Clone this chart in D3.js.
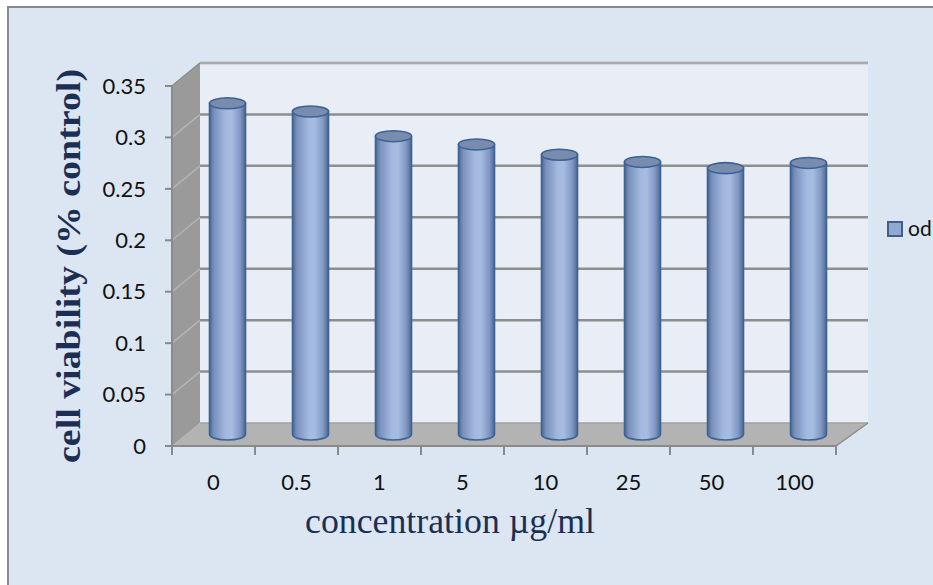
<!DOCTYPE html>
<html>
<head>
<meta charset="utf-8">
<script src="https://cdn.jsdelivr.net/npm/d3@7"></script>
<style>
  html, body { margin: 0; padding: 0; background: #ffffff; }
  svg { display: block; }
</style>
</head>
<body>
<svg id="chart" width="933" height="585"></svg>
<script>
// Cell viability (od) per concentration
const categories = ["0", "0.5", "1", "5", "10", "25", "50", "100"];
const odValues = [0.322, 0.314, 0.290, 0.282, 0.272, 0.265, 0.259, 0.264];
const yTicks = [0, 0.05, 0.1, 0.15, 0.2, 0.25, 0.3, 0.35];
const yTickLabels = ["0", "0.05", "0.1", "0.15", "0.2", "0.25", "0.3", "0.35"];
const seriesName = "od";
const yTitle = "cell viability (% control)";
const xTitle = "concentration  \u00b5g/ml";

const svg = d3.select("#chart");
const W = 933, H = 585;

// 3-D box geometry
const plot = { left: 172, right: 836, bottom: 446, top: 86 };
const depth = { dx: 28, dy: -23 };

const x = d3.scaleBand().domain(categories).range([plot.left, plot.right]).padding(0);
const y = d3.scaleLinear().domain([0, 0.35]).range([plot.bottom, plot.top]);

// Chart area background + frame
svg.append("rect")
  .attr("x", 8).attr("y", 7).attr("width", W + 10).attr("height", H + 10)
  .attr("fill", "#dce6f2").attr("stroke", "#8a8a8a").attr("stroke-width", 2);

const defs = svg.append("defs");
const grad = defs.append("linearGradient").attr("id", "cyl")
  .attr("x1", "0%").attr("x2", "100%").attr("y1", "0%").attr("y2", "0%");
[["0%", "#4c6794"], ["12%", "#7990bb"], ["45%", "#a3b9df"], ["62%", "#a6bce1"],
 ["85%", "#8098c3"], ["100%", "#4d6793"]].forEach(([o, c]) =>
  grad.append("stop").attr("offset", o).attr("stop-color", c));

const pt = (px, py) => px + "," + py;

// Back wall
const backL = plot.left + depth.dx, backR = plot.right + depth.dx + 4;
svg.append("polygon")
  .attr("points", [pt(backL, y(0.35) + depth.dy), pt(backR, y(0.35) + depth.dy),
                   pt(backR, y(0) + depth.dy), pt(backL, y(0) + depth.dy)].join(" "))
  .attr("fill", "#e9edf5");

// Side wall
svg.append("polygon")
  .attr("points", [pt(plot.left, y(0)), pt(plot.left, y(0.35)),
                   pt(backL, y(0.35) + depth.dy), pt(backL, y(0) + depth.dy)].join(" "))
  .attr("fill", "#9a9a9a");

// Gridlines on the back wall and side wall
yTicks.forEach(v => {
  if (v === 0) return;
  svg.append("line")
    .attr("x1", plot.left).attr("y1", y(v))
    .attr("x2", backL).attr("y2", y(v) + depth.dy)
    .attr("stroke", "#b4b4b4").attr("stroke-width", 1.5);
  svg.append("line")
    .attr("x1", backL).attr("y1", y(v) + depth.dy)
    .attr("x2", backR).attr("y2", y(v) + depth.dy)
    .attr("stroke", "#8e8e8e").attr("stroke-width", 2.5);
});

// Floor
svg.append("polygon")
  .attr("points", [pt(plot.left, y(0)), pt(plot.right, y(0)),
                   pt(backR, y(0) + depth.dy), pt(backL, y(0) + depth.dy)].join(" "))
  .attr("fill", "#b3b3b3");
svg.append("line")
  .attr("x1", backL).attr("y1", y(0) + depth.dy)
  .attr("x2", backR).attr("y2", y(0) + depth.dy)
  .attr("stroke", "#a2a2a2").attr("stroke-width", 1.5);

// Axis lines and tick marks
svg.append("line")
  .attr("x1", plot.left).attr("y1", y(0)).attr("x2", plot.left).attr("y2", y(0.35))
  .attr("stroke", "#8a8a8a").attr("stroke-width", 2);
svg.append("line")
  .attr("x1", plot.left).attr("y1", y(0)).attr("x2", plot.right).attr("y2", y(0))
  .attr("stroke", "#8a8a8a").attr("stroke-width", 2);
svg.append("line")
  .attr("x1", plot.left).attr("y1", y(0.35)).attr("x2", backL).attr("y2", y(0.35) + depth.dy)
  .attr("stroke", "#8a8a8a").attr("stroke-width", 1.5);
svg.append("line")
  .attr("x1", backL).attr("y1", y(0.35) + depth.dy).attr("x2", backR).attr("y2", y(0.35) + depth.dy)
  .attr("stroke", "#a9a9a9").attr("stroke-width", 2);
svg.append("line")
  .attr("x1", plot.right).attr("y1", y(0)).attr("x2", backR).attr("y2", y(0) + depth.dy)
  .attr("stroke", "#8a8a8a").attr("stroke-width", 1.5);

yTicks.forEach(v => {
  svg.append("line")
    .attr("x1", plot.left - 7).attr("y1", y(v)).attr("x2", plot.left).attr("y2", y(v))
    .attr("stroke", "#8a8a8a").attr("stroke-width", 2);
});
const bounds = categories.map(c => x(c)).concat([plot.right]);
bounds.forEach(bx => {
  svg.append("line")
    .attr("x1", bx).attr("y1", y(0)).attr("x2", bx).attr("y2", y(0) + 9)
    .attr("stroke", "#8a8a8a").attr("stroke-width", 2);
});

// Tick labels
const tickFont = "Lato, 'Open Sans', sans-serif";
svg.append("g").selectAll("text").data(yTicks).join("text")
  .attr("x", 146).attr("y", d => y(d))
  .attr("dy", "0.35em")
  .attr("text-anchor", "end")
  .attr("font-family", tickFont).attr("font-size", 22)
  .attr("fill", "#111")
  .text((d, i) => yTickLabels[i]);

svg.append("g").selectAll("text").data(categories).join("text")
  .attr("x", d => x(d) + x.bandwidth() / 2).attr("y", 490)
  .attr("text-anchor", "middle")
  .attr("font-family", tickFont).attr("font-size", 22)
  .attr("fill", "#111")
  .text(d => d);

// Cylinders
const rx = 18, ry = 5.5;
const cyl = svg.append("g").selectAll("g").data(categories).join("g");
cyl.each(function (c, i) {
  const g = d3.select(this);
  const cx = x(c) + x.bandwidth() / 2 + depth.dx / 2;
  const yb = y(0) + depth.dy / 2;
  const yt = y(odValues[i]) + depth.dy / 2;
  const body = `M${cx - rx},${yt} L${cx - rx},${yb} A${rx},${ry} 0 0 0 ${cx + rx},${yb} L${cx + rx},${yt} Z`;
  g.append("path").attr("d", body)
    .attr("fill", "url(#cyl)").attr("stroke", "#3b6396").attr("stroke-width", 1.6);
  g.append("ellipse")
    .attr("cx", cx).attr("cy", yt).attr("rx", rx).attr("ry", ry)
    .attr("fill", "#7a8cae").attr("stroke", "#3b6396").attr("stroke-width", 1.6);
});

// Axis titles
svg.append("text")
  .attr("transform", "translate(80,266) rotate(-90)")
  .attr("text-anchor", "middle")
  .attr("font-family", "'Liberation Serif', 'DejaVu Serif', serif")
  .attr("font-weight", "bold").attr("font-size", 34)
  .attr("textLength", 394).attr("lengthAdjust", "spacingAndGlyphs")
  .attr("fill", "#1b2f55")
  .text(yTitle);

svg.append("text")
  .attr("x", 450).attr("y", 533)
  .attr("text-anchor", "middle")
  .attr("font-family", "'Liberation Serif', 'DejaVu Serif', serif")
  .attr("font-size", 35)
  .attr("textLength", 290).attr("lengthAdjust", "spacingAndGlyphs")
  .attr("fill", "#1b2f55")
  .text(xTitle);

// Legend
svg.append("rect")
  .attr("x", 888).attr("y", 222).attr("width", 14).attr("height", 14)
  .attr("fill", "#93a9d2").attr("stroke", "#3f5f8f").attr("stroke-width", 2);
svg.append("text")
  .attr("x", 908).attr("y", 236)
  .attr("font-family", tickFont).attr("font-size", 21)
  .attr("fill", "#111")
  .text(seriesName);
</script>
</body>
</html>
